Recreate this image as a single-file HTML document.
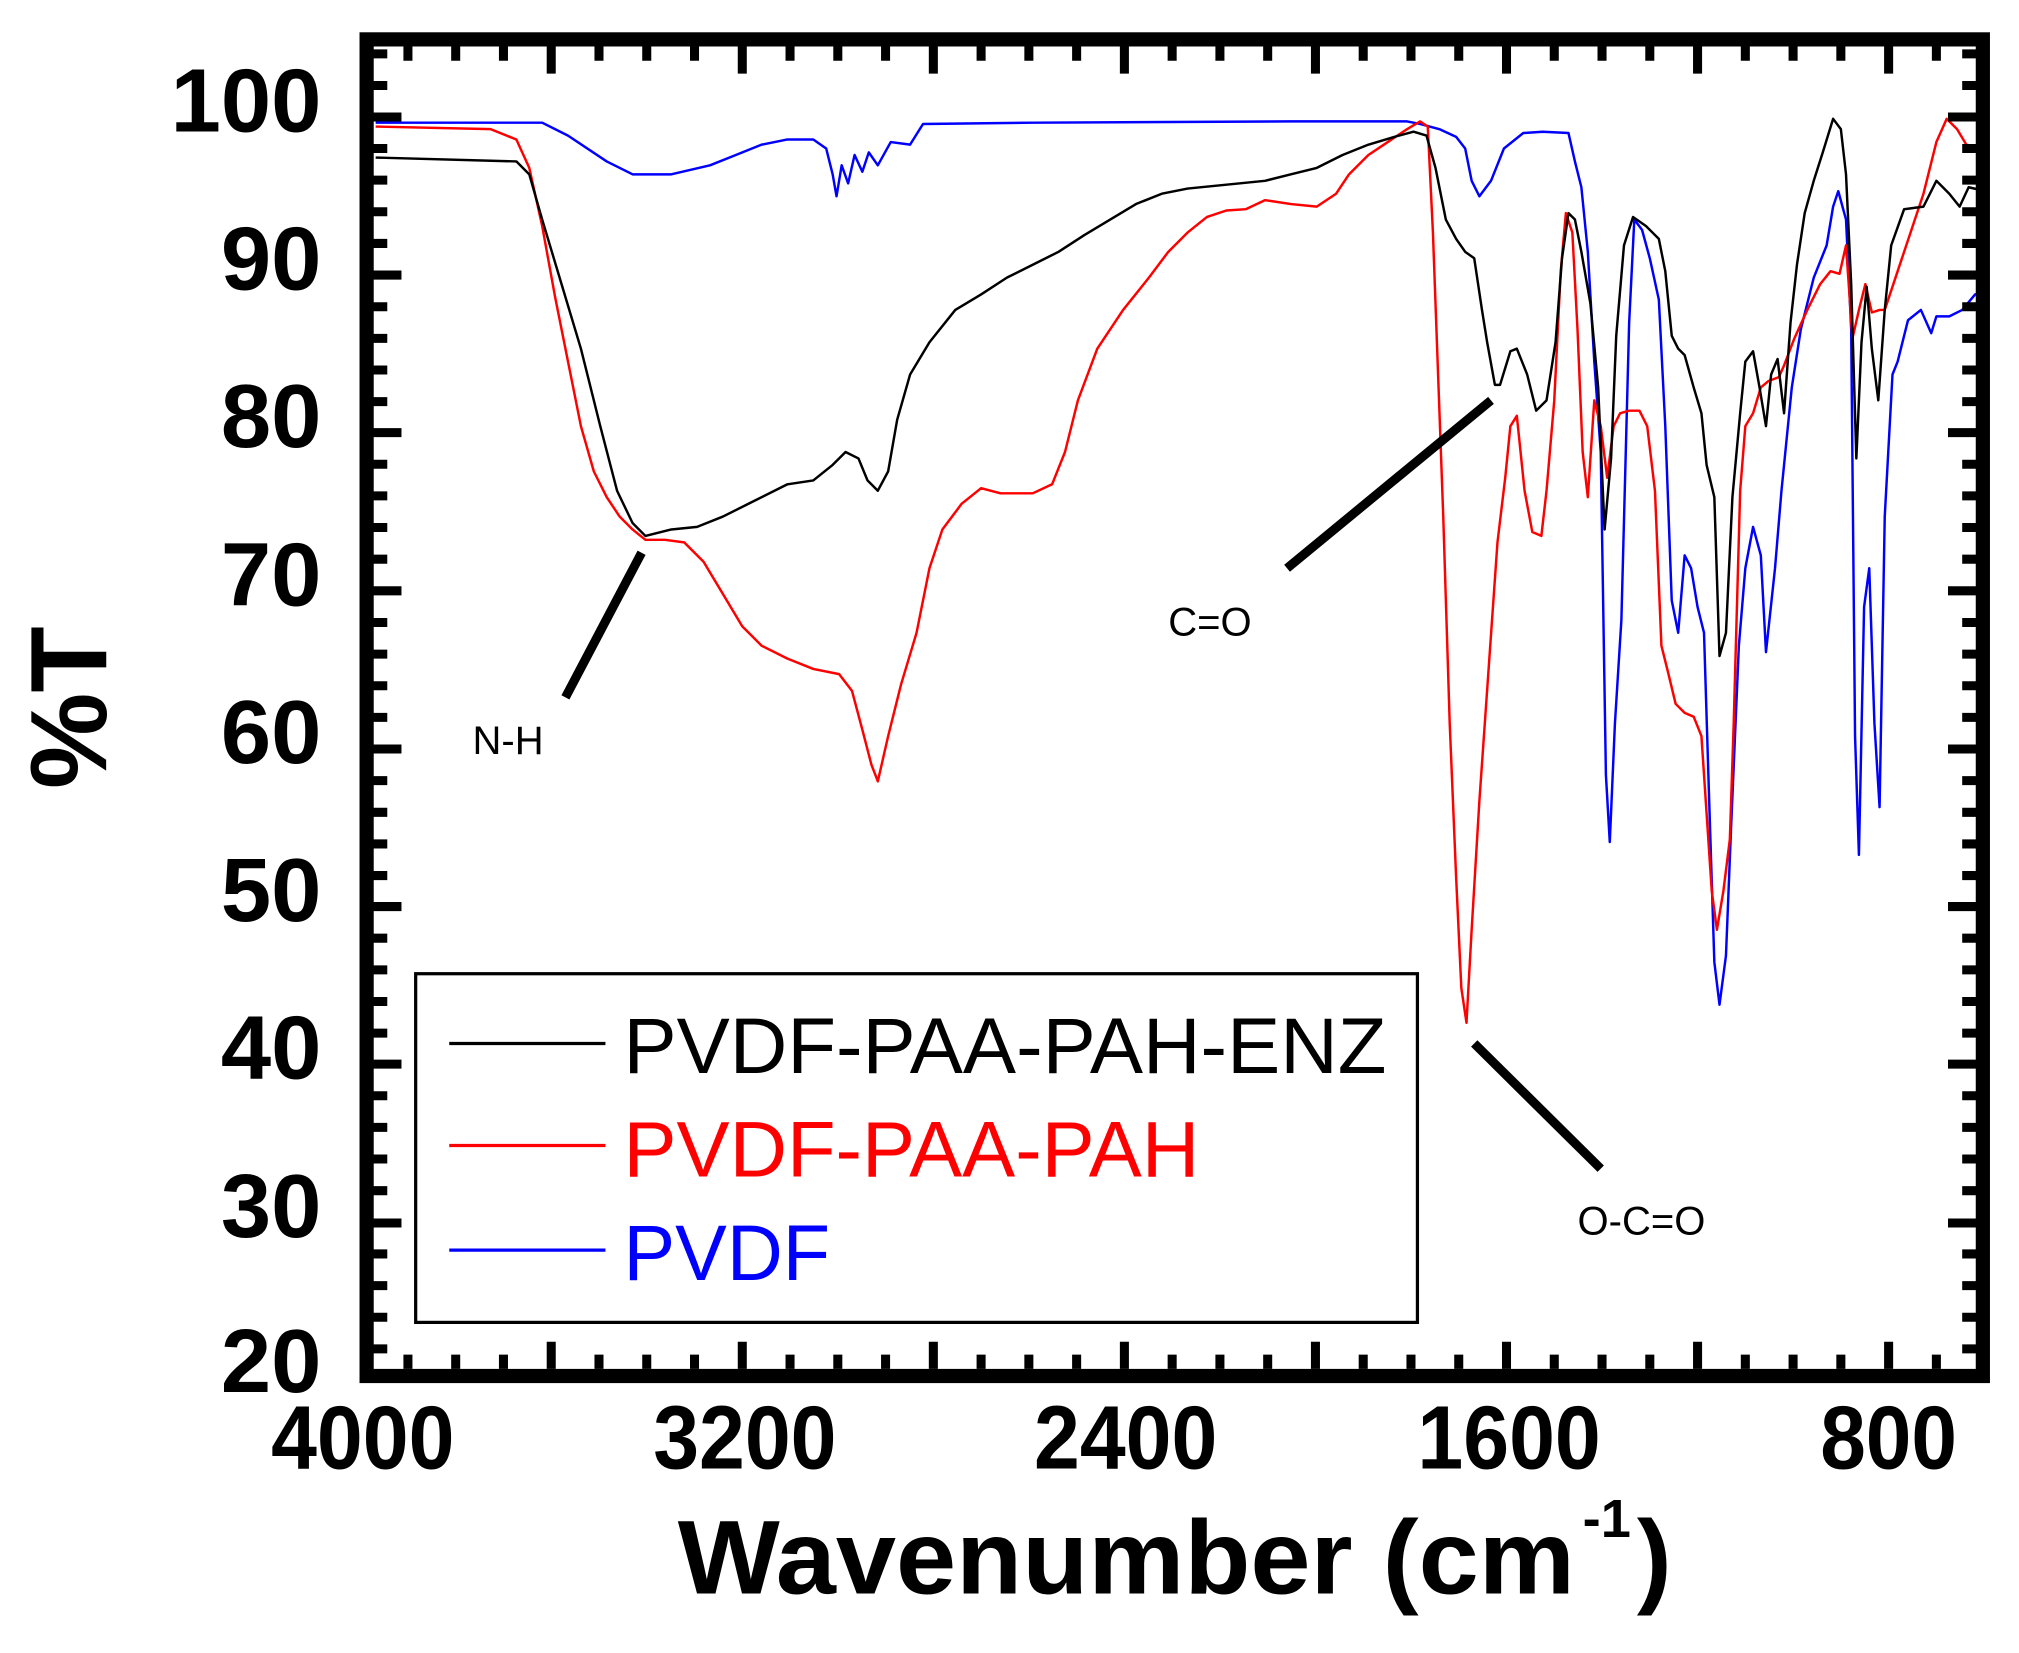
<!DOCTYPE html>
<html><head><meta charset="utf-8"><style>
html,body{margin:0;padding:0;background:#fff;}
svg{display:block;}
text{font-family:"Liberation Sans",Arial,sans-serif;}
</style></head><body>
<svg width="2019" height="1653" viewBox="0 0 1564 1280" preserveAspectRatio="none" xmlns="http://www.w3.org/2000/svg">
<rect x="0" y="0" width="1564" height="1280" fill="#fff"/>
<g fill="none" stroke-width="1.9" stroke-linejoin="round">
<polyline stroke="#0000ff" points="291,95 420,95 440,105 470,125 490,135 520,135 550,128 570,120 590,112 610,108 630,108 640,115 645,135 648,152 652,128 657,142 662,120 668,133 673,118 680,128 690,110 705,112 715,96 800,95 1000,94 1090,94 1100,96 1115,100 1128,106 1135,115 1140,140 1146,152 1155,140 1165,115 1180,103 1195,102 1215,103 1220,125 1225,145 1230,195 1235,280 1240,350 1244,600 1247,652 1251,560 1256,480 1262,250 1266,170 1272,178 1278,200 1285,232 1290,330 1295,465 1300,490 1305,430 1310,440 1315,470 1320,490 1324,620 1328,745 1332,778 1337,740 1341,640 1347,500 1352,440 1358,408 1364,430 1368,505 1375,440 1380,380 1388,300 1395,255 1405,215 1415,190 1420,160 1424,148 1430,170 1434,255 1437,570 1440,662 1444,470 1448,440 1452,560 1456,625 1460,400 1466,290 1470,280 1478,248 1488,240 1496,258 1500,245 1510,245 1520,240 1530,228 1538,226"/>
<polyline stroke="#ff0000" points="291,98 380,100 400,108 410,130 420,175 430,230 440,280 450,330 460,365 470,385 480,400 490,410 500,418 515,418 530,420 545,435 560,460 575,485 590,500 610,510 630,518 650,522 660,535 668,565 675,592 680,605 688,570 698,530 710,490 720,440 730,410 745,390 760,378 775,382 800,382 815,375 825,350 835,310 850,270 870,240 890,215 905,195 920,180 935,168 950,163 965,162 980,155 1000,158 1020,160 1035,150 1045,135 1060,120 1075,110 1090,100 1100,94 1106,98 1110,180 1114,290 1118,400 1123,560 1128,680 1132,765 1136,792 1140,720 1146,620 1153,520 1160,420 1166,370 1170,330 1175,322 1181,380 1187,412 1194,415 1198,380 1204,310 1209,210 1213,165 1218,180 1222,255 1226,350 1230,385 1235,310 1240,330 1245,370 1250,330 1255,320 1262,318 1270,318 1276,330 1282,380 1287,500 1292,520 1298,545 1305,552 1312,555 1318,570 1322,630 1326,690 1330,720 1335,690 1340,650 1343,560 1348,380 1352,330 1358,320 1364,300 1370,295 1378,292 1382,283 1390,262 1400,240 1410,220 1418,210 1425,212 1430,190 1435,262 1440,240 1445,220 1450,242 1456,240 1460,240 1470,210 1480,180 1490,150 1500,110 1508,92 1516,100 1525,115 1538,118"/>
<polyline stroke="#000000" points="291,122 400,125 410,135 420,170 435,220 450,270 465,330 478,380 490,405 500,415 520,410 540,408 560,400 580,390 610,375 630,372 645,360 655,350 665,355 672,372 680,380 688,365 695,325 705,290 720,265 740,240 760,228 780,215 800,205 820,195 840,182 860,170 880,158 900,150 920,146 950,143 980,140 1000,135 1020,130 1040,120 1060,112 1080,106 1095,102 1105,105 1112,130 1120,170 1128,185 1135,195 1142,200 1148,240 1152,265 1158,298 1162,298 1170,272 1175,270 1183,290 1190,318 1198,310 1205,265 1210,200 1215,165 1220,170 1225,195 1232,235 1238,300 1243,410 1248,355 1252,260 1258,190 1265,168 1275,175 1285,185 1290,210 1295,260 1300,270 1305,275 1312,300 1318,320 1322,360 1328,385 1332,508 1337,490 1342,385 1348,320 1352,280 1358,272 1363,300 1368,330 1372,290 1377,278 1382,320 1387,250 1392,205 1398,165 1405,140 1412,118 1420,92 1426,100 1430,135 1434,220 1438,355 1442,265 1446,222 1450,270 1455,310 1460,240 1465,190 1475,162 1490,160 1500,140 1510,150 1518,160 1525,145 1538,148"/>
</g>
<g stroke="#000" stroke-width="7" stroke-linecap="butt">
<line x1="438" y1="540" x2="497" y2="428"/>
<line x1="997" y1="440" x2="1155" y2="310"/>
<line x1="1142" y1="808" x2="1240" y2="905"/>
</g>
<g font-size="31" fill="#000">
<text x="366" y="584">N-H</text>
<text x="905" y="492">C=O</text>
<text x="1222" y="956">O-C=O</text>
</g>
<rect x="322" y="754" width="776" height="270" fill="none" stroke="#000" stroke-width="2.5"/>
<line x1="348" y1="808" x2="469" y2="808" stroke="#000" stroke-width="2.5"/>
<line x1="348" y1="887" x2="469" y2="887" stroke="#ff0000" stroke-width="2.5"/>
<line x1="348" y1="968" x2="469" y2="968" stroke="#0000ff" stroke-width="2.5"/>
<g font-size="61">
<text x="483" y="831" fill="#000" textLength="591" lengthAdjust="spacingAndGlyphs">PVDF-PAA-PAH-ENZ</text>
<text x="483" y="911" fill="#ff0000" textLength="446" lengthAdjust="spacingAndGlyphs">PVDF-PAA-PAH</text>
<text x="483" y="991" fill="#0000ff" textLength="160" lengthAdjust="spacingAndGlyphs">PVDF</text>
</g>
<rect x="284" y="30.5" width="1252" height="1035" fill="none" stroke="#000" stroke-width="11"/>
<g stroke="#000" stroke-width="7">
<path d="M289,90.6h22 M289,213h22 M289,335h22 M289,457.5h22 M289,580h22 M289,702h22 M289,824h22 M289,947h22"/>
<path d="M289,41.7h11 M289,66.2h11 M289,115h11 M289,139.5h11 M289,164h11 M289,188.5h11 M289,237.5h11 M289,262h11 M289,286.5h11 M289,311h11 M289,359.5h11 M289,384h11 M289,408.5h11 M289,433h11 M289,482h11 M289,506.5h11 M289,531h11 M289,555.5h11 M289,604.5h11 M289,629h11 M289,653.5h11 M289,678h11 M289,726.5h11 M289,751h11 M289,775.5h11 M289,800h11 M289,848.5h11 M289,873h11 M289,897.5h11 M289,922h11 M289,971h11 M289,995.5h11 M289,1020h11 M289,1044.5h11"/>
<path d="M1531,90.6h-22 M1531,213h-22 M1531,335h-22 M1531,457.5h-22 M1531,580h-22 M1531,702h-22 M1531,824h-22 M1531,947h-22"/>
<path d="M1531,41.7h-11 M1531,66.2h-11 M1531,115h-11 M1531,139.5h-11 M1531,164h-11 M1531,188.5h-11 M1531,237.5h-11 M1531,262h-11 M1531,286.5h-11 M1531,311h-11 M1531,359.5h-11 M1531,384h-11 M1531,408.5h-11 M1531,433h-11 M1531,482h-11 M1531,506.5h-11 M1531,531h-11 M1531,555.5h-11 M1531,604.5h-11 M1531,629h-11 M1531,653.5h-11 M1531,678h-11 M1531,726.5h-11 M1531,751h-11 M1531,775.5h-11 M1531,800h-11 M1531,848.5h-11 M1531,873h-11 M1531,897.5h-11 M1531,922h-11 M1531,971h-11 M1531,995.5h-11 M1531,1020h-11 M1531,1044.5h-11"/>
<path d="M427,1060v-21 M575,1060v-21 M723,1060v-21 M871,1060v-21 M1019,1060v-21 M1167,1060v-21 M1315,1060v-21 M1463,1060v-21"/>
<path d="M316,1060v-11 M353,1060v-11 M390,1060v-11 M464,1060v-11 M501,1060v-11 M538,1060v-11 M612,1060v-11 M649,1060v-11 M686,1060v-11 M760,1060v-11 M797,1060v-11 M834,1060v-11 M908,1060v-11 M945,1060v-11 M982,1060v-11 M1056,1060v-11 M1093,1060v-11 M1130,1060v-11 M1204,1060v-11 M1241,1060v-11 M1278,1060v-11 M1352,1060v-11 M1389,1060v-11 M1426,1060v-11 M1500,1060v-11"/>
<path d="M427,36v21 M575,36v21 M723,36v21 M871,36v21 M1019,36v21 M1167,36v21 M1315,36v21 M1463,36v21"/>
<path d="M316,36v11 M353,36v11 M390,36v11 M464,36v11 M501,36v11 M538,36v11 M612,36v11 M649,36v11 M686,36v11 M760,36v11 M797,36v11 M834,36v11 M908,36v11 M945,36v11 M982,36v11 M1056,36v11 M1093,36v11 M1130,36v11 M1204,36v11 M1241,36v11 M1278,36v11 M1352,36v11 M1389,36v11 M1426,36v11 M1500,36v11"/>
</g>
<g font-size="70" font-weight="bold" text-anchor="end" fill="#000">
<text x="249" y="102">100</text>
<text x="249" y="224">90</text>
<text x="249" y="346">80</text>
<text x="249" y="469">70</text>
<text x="249" y="591">60</text>
<text x="249" y="713">50</text>
<text x="249" y="835">40</text>
<text x="249" y="958">30</text>
<text x="249" y="1078">20</text>
</g>
<g font-size="70" font-weight="bold" text-anchor="middle" fill="#000">
<text x="281" y="1137" textLength="142" lengthAdjust="spacingAndGlyphs">4000</text>
<text x="577" y="1137" textLength="142" lengthAdjust="spacingAndGlyphs">3200</text>
<text x="872" y="1137" textLength="142" lengthAdjust="spacingAndGlyphs">2400</text>
<text x="1169" y="1137" textLength="142" lengthAdjust="spacingAndGlyphs">1600</text>
<text x="1463" y="1137" textLength="106" lengthAdjust="spacingAndGlyphs">800</text>
</g>
<text x="525" y="1234" font-size="81" font-weight="bold" textLength="695" lengthAdjust="spacingAndGlyphs">Wavenumber (cm</text>
<text x="1226" y="1190" font-size="42" font-weight="bold">-1</text>
<text x="1268" y="1234" font-size="81" font-weight="bold">)</text>
<text transform="translate(82,548) rotate(-90)" font-size="84" font-weight="bold" text-anchor="middle">%T</text>
</svg>
</body></html>
